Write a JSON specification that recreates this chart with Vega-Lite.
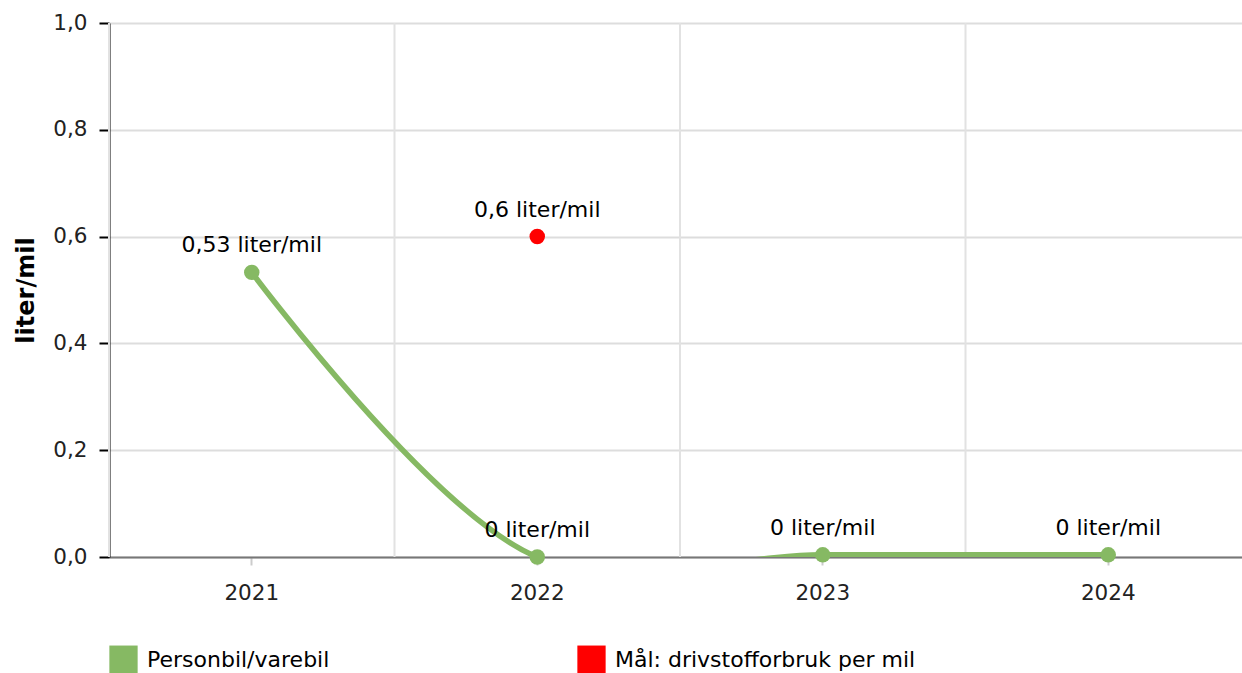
{
  "$schema": "https://vega.github.io/schema/vega-lite/v6.json",
  "autosize": "none",
  "padding": {"left": 109, "top": 23, "right": 0, "bottom": 116},
  "width": 1142,
  "height": 534,
  "background": "white",
  "config": {
    "font": "DejaVu Sans",
    "view": {"stroke": null},
    "axis": {"labelFont": "DejaVu Sans", "titleFont": "DejaVu Sans"}
  },
  "data": {
    "values": [
      {"year": "2021", "value": 0.533, "series": "Personbil/varebil", "label": "0,53 liter/mil"},
      {"year": "2022", "value": 0.0, "series": "Personbil/varebil", "label": "0 liter/mil"},
      {"year": "2023", "value": 0.004, "series": "Personbil/varebil", "label": "0 liter/mil"},
      {"year": "2024", "value": 0.004, "series": "Personbil/varebil", "label": "0 liter/mil"},
      {"year": "2022", "value": 0.6, "series": "Mål: drivstofforbruk per mil", "label": "0,6 liter/mil"}
    ]
  },
  "encoding": {
    "x": {
      "field": "year", "type": "ordinal",
      "scale": {"type": "band", "paddingInner": 0, "paddingOuter": 0, "domain": ["2021", "2022", "2023", "2024"]},
      "axis": {
        "title": null, "labelAngle": 0, "labelFontSize": 21.5, "labelColor": "#222",
        "domainColor": "#777", "domainWidth": 2, "tickColor": "#ccc", "tickSize": 8, "tickWidth": 2,
        "labelPadding": 17, "grid": false
      }
    },
    "y": {
      "field": "value", "type": "quantitative",
      "scale": {"domain": [0, 1], "nice": false},
      "axis": {
        "title": "liter/mil", "titleFontSize": 24, "titleFontWeight": "bold", "titleColor": "#000", "titlePadding": 14,
        "values": [0, 0.2, 0.4, 0.6, 0.8, 1.0],
        "labelExpr": "replace(format(datum.value, '.1f'), '.', ',')",
        "labelFontSize": 21.5, "labelColor": "#222", "labelPadding": 12,
        "domainColor": "#000", "domainWidth": 2, "tickColor": "#000", "tickSize": 10, "tickWidth": 2,
        "gridColor": "#dddddd", "gridWidth": 2
      }
    }
  },
  "layer": [
    {
      "mark": {"type": "rule", "color": "#e2e2e2", "strokeWidth": 2},
      "transform": [{"filter": "datum.series === 'Personbil/varebil'"}],
      "encoding": {"x": {"field": "year", "type": "ordinal", "bandPosition": 0}, "y": null}
    },
    {
      "mark": {"type": "line", "interpolate": "catmull-rom", "color": "#86b963", "strokeWidth": 5.5, "clip": true},
      "transform": [{"filter": "datum.series === 'Personbil/varebil'"}],
      "encoding": {}
    },
    {
      "mark": {"type": "point", "filled": true, "opacity": 1, "size": 240, "shape": "circle"},
      "encoding": {
        "color": {
          "field": "series", "type": "nominal",
          "scale": {"domain": ["Personbil/varebil", "Mål: drivstofforbruk per mil"], "range": ["#86b963", "#ff0000"]},
          "legend": {
            "title": null, "orient": "none", "legendX": 0, "legendY": 622, "direction": "horizontal",
            "symbolType": "square", "symbolSize": 800, "symbolStrokeWidth": 0, "symbolOpacity": 1,
            "labelFontSize": 22, "labelColor": "#000", "labelOffset": 9, "columnPadding": 247, "padding": 0,
            "labelLimit": 500
          }
        }
      }
    },
    {
      "mark": {"type": "text", "fontSize": 22, "color": "#000", "dy": -20, "baseline": "alphabetic"},
      "encoding": {"text": {"field": "label"}}
    }
  ]
}
